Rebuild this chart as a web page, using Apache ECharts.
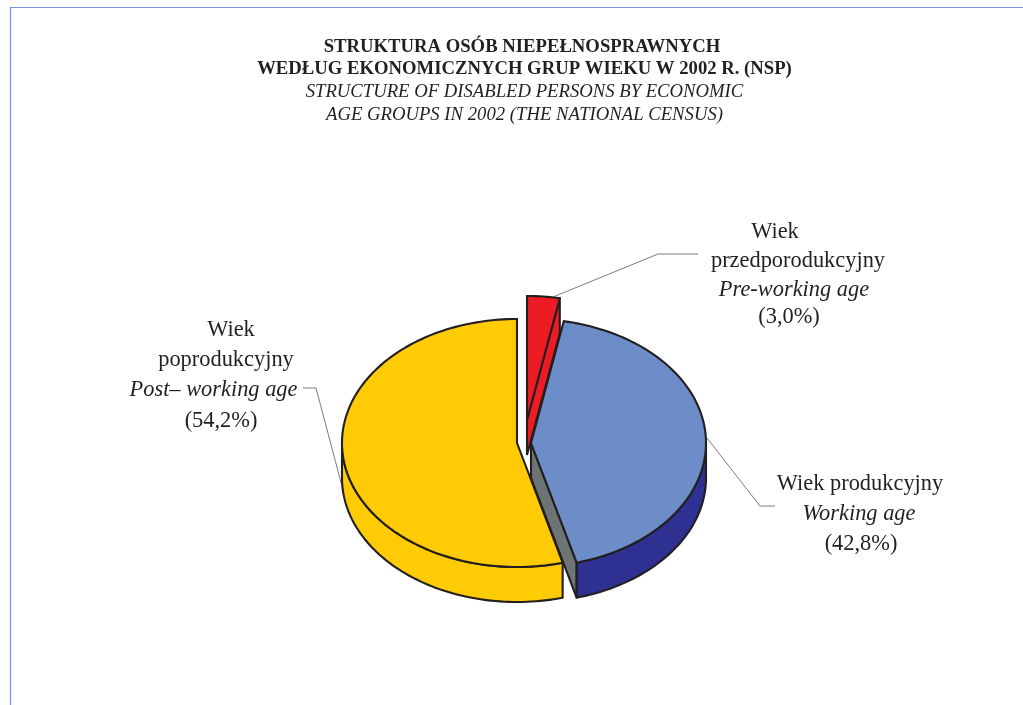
<!DOCTYPE html>
<html>
<head>
<meta charset="utf-8">
<style>html,body{margin:0;padding:0;background:#fff}#c{width:1023px;height:705px}</style>
<script src="https://cdn.jsdelivr.net/npm/echarts@6/dist/echarts.min.js"></script>
</head>
<body>
<div id="c"></div>
<script>
// data
const categories = ['Pre-working age', 'Working age', 'Post– working age'];
const shares = [3.0, 42.8, 54.2];
const titleLines = ['STRUKTURA OSÓB NIEPEŁNOSPRAWNYCH', 'WEDŁUG EKONOMICZNYCH GRUP WIEKU W 2002 R. (NSP)'];
const subtitleLines = ['STRUCTURE OF DISABLED PERSONS BY ECONOMIC', 'AGE GROUPS IN 2002 (THE NATIONAL CENSUS)'];
const labelPolish = [['Wiek', 'przedporodukcyjny'], ['Wiek produkcyjny'], ['Wiek', 'poprodukcyjny']];

// layout and style
const sliceCentres = [[527, 420], [531, 443], [517, 443]];
const RX = 175, RY = 124, DEPTH = 35;
const topColours = ['#ED1C24', '#6C8DC8', '#FFCB05'];
const wallColours = ['#ED1C24', '#2E3192', '#FFCB05'];
const faceColours = ['#ED1C24', '#6D7476', '#FFCB05'];
const labelPositions = [
  [[775, 232], [798, 261], [794, 290], [789, 317]],
  [[860, 484], [859, 514], [861, 544]],
  [[231, 330], [226, 360], [213.5, 390], [221, 421]]
];
const leaders = [
  [[553, 297], [658, 254], [698, 254]],
  [[707, 438], [760, 506], [775, 506]],
  [[343, 490], [316, 388], [303, 388]]
];
const titleLefts = [517, 519.5];
const titleTops = [31, 52.5];
const subtitleLeft = 519.5, subtitleTops = [76, 99];
const INK = '#231F20';
const FONT = '"Liberation Serif","Times New Roman",serif';

const total = shares.reduce((a, b) => a + b, 0);
const starts = [];
shares.reduce((acc, v, i) => { starts[i] = acc; return acc + v; }, 0);

function pt(c, deg, dy) {
  const t = deg * Math.PI / 180;
  return [c[0] + RX * Math.sin(t), c[1] - RY * Math.cos(t) + (dy || 0)];
}
function arc(c, a, b, dy) {
  const pts = [], n = Math.max(2, Math.ceil(Math.abs(b - a) / 1.5));
  for (let i = 0; i <= n; i++) pts.push(pt(c, a + (b - a) * i / n, dy));
  return pts;
}
function poly(points, fill) {
  return {
    type: 'polygon',
    shape: { points: points },
    style: { fill: fill, stroke: INK, lineWidth: 2.1, lineJoin: 'miter', miterLimit: 2.5 }
  };
}
function renderSlice(params, api) {
  const i = params.dataIndex;
  const value = api.value(1);
  const a = starts[i] / total * 360, b = a + value / total * 360;
  const c = sliceCentres[i];
  const children = [];
  // cut face at the clockwise end of the slice
  if (b > 0 && b < 180) {
    const e = pt(c, b);
    children.push(poly([c, e, [e[0], e[1] + DEPTH], [c[0], c[1] + DEPTH]], faceColours[i]));
  }
  // outer wall on the front half of the ellipse
  const wa = Math.max(a, 90), wb = Math.min(b, 270);
  if (wb > wa) {
    children.push(poly(arc(c, wa, wb, 0).concat(arc(c, wb, wa, DEPTH)), wallColours[i]));
  }
  // top surface
  children.push(poly([c].concat(arc(c, a, b, 0)), topColours[i]));
  return { type: 'group', children: children };
}
function labelLines(i) {
  const v = '(' + shares[i].toFixed(1).replace('.', ',') + '%)';
  return labelPolish[i].map(t => ({ t: t, it: false }))
    .concat([{ t: categories[i], it: true }, { t: v, it: false }]);
}

const graphics = [
  { type: 'line', shape: { x1: 10, y1: 7.5, x2: 1023, y2: 7.5 }, style: { stroke: '#7596D8', lineWidth: 1.2 }, silent: true },
  { type: 'line', shape: { x1: 10.5, y1: 7, x2: 10.5, y2: 705 }, style: { stroke: '#7596D8', lineWidth: 1.2 }, silent: true }
];
leaders.forEach(l => graphics.push({
  type: 'polyline', shape: { points: l }, style: { fill: null, stroke: '#5b5b5b', lineWidth: 0.8 }, silent: true
}));
categories.forEach((_, i) => labelLines(i).forEach((ln, j) => graphics.push({
  type: 'text', x: labelPositions[i][j][0], y: labelPositions[i][j][1], silent: true,
  style: {
    text: ln.t, fill: '#231F20', align: 'center', verticalAlign: 'middle',
    font: (ln.it ? 'italic ' : '') + '22.4px ' + FONT
  }
})));

const titles = titleLines.map((t, i) => ({
  text: t, left: titleLefts[i], top: titleTops[i], textAlign: 'center',
  textStyle: { fontFamily: FONT, fontSize: 18.7, fontWeight: 'bold', color: '#231F20', lineHeight: 22.5 }
})).concat(subtitleLines.map((t, i) => ({
  text: t, left: subtitleLeft, top: subtitleTops[i], textAlign: 'center',
  textStyle: { fontFamily: FONT, fontSize: 18.7, fontWeight: 'normal', fontStyle: 'italic', color: '#231F20', lineHeight: 23 }
})));

const chart = echarts.init(document.getElementById('c'), null, { renderer: 'canvas' });
chart.setOption({
  animation: false,
  backgroundColor: '#fff',
  title: titles,
  graphic: graphics,
  series: [{
    type: 'custom',
    coordinateSystem: 'none',
    renderItem: renderSlice,
    data: categories.map((n, i) => ({ name: n, value: [i, shares[i]] }))
  }]
});
</script>
</body>
</html>
